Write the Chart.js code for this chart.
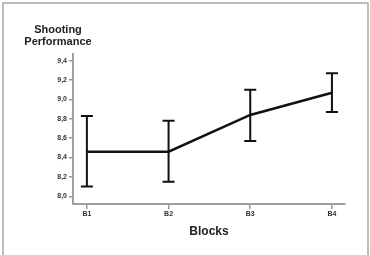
<!DOCTYPE html>
<html>
<head>
<meta charset="utf-8">
<script src="https://cdn.jsdelivr.net/npm/chart.js@4"></script>
<style>
  html, body { margin: 0; padding: 0; background: #fff; }
  #wrap { width: 370px; height: 255px; }
</style>
</head>
<body>
<div id="wrap"><canvas id="grafico" width="370" height="255"></canvas></div>
<script>
const bloques = ["B1", "B2", "B3", "B4"];
const medias = [8.46, 8.46, 8.84, 9.07];
const superior = [8.83, 8.78, 9.10, 9.27];
const inferior = [8.10, 8.15, 8.57, 8.87];
const ticksY = [8.0, 8.2, 8.4, 8.6, 8.8, 9.0, 9.2, 9.4];

const fuente = "'Liberation Sans', Arial, sans-serif";

// marco gris y titulo del eje y
const marco = {
    id: "marco",
    beforeDraw(chart) {
        const ctx = chart.ctx;
        ctx.save();
        ctx.strokeStyle = "#a8a8a8";
        ctx.lineWidth = 1.5;
        ctx.beginPath();
        ctx.moveTo(3, 260);
        ctx.lineTo(3, 3);
        ctx.lineTo(368, 3);
        ctx.lineTo(368, 260);
        ctx.stroke();
        ctx.fillStyle = "#222";
        ctx.font = "bold 11px " + fuente;
        ctx.textAlign = "center";
        ctx.textBaseline = "middle";
        ctx.fillText("Shooting", 58, 30);
        ctx.fillText("Performance", 58, 42);
        ctx.restore();
    }
};

// barras de error
const barrasError = {
    id: "barrasError",
    afterDatasetsDraw(chart) {
        const ctx = chart.ctx;
        const x = chart.scales.x;
        const y = chart.scales.y;
        ctx.save();
        ctx.strokeStyle = "#111";
        ctx.lineWidth = 2;
        bloques.forEach((b, i) => {
            const px = x.getPixelForValue(i + 1);
            const top = y.getPixelForValue(superior[i]);
            const bot = y.getPixelForValue(inferior[i]);
            ctx.beginPath();
            ctx.moveTo(px, top);
            ctx.lineTo(px, bot);
            ctx.moveTo(px - 6, top);
            ctx.lineTo(px + 6, top);
            ctx.moveTo(px - 6, bot);
            ctx.lineTo(px + 6, bot);
            ctx.stroke();
        });
        ctx.restore();
    }
};

new Chart(document.getElementById("grafico"), {
    type: "line",
    data: {
        datasets: [{
            data: medias.map((v, i) => ({ x: i + 1, y: v })),
            borderColor: "#111",
            borderWidth: 2.5,
            pointRadius: 0,
            tension: 0,
            fill: false
        }]
    },
    options: {
        responsive: false,
        animation: false,
        layout: { padding: { left: 0, right: 25, top: 54, bottom: 0 } },
        plugins: { legend: { display: false }, tooltip: { enabled: false } },
        scales: {
            x: {
                type: "linear",
                min: 0.83,
                max: 4.16,
                afterBuildTicks: (s) => { s.ticks = bloques.map((b, i) => ({ value: i + 1 })); },
                afterFit: (s) => { s.height = 51; },
                grid: { drawOnChartArea: false, drawTicks: true, tickLength: 5, color: "#999", lineWidth: 1.5 },
                border: { display: true, color: "#a0a0a0", width: 2 },
                ticks: {
                    padding: 1,
                    color: "#333",
                    font: { family: fuente, size: 7, weight: "bold" },
                    callback: (v) => bloques[v - 1]
                },
                title: {
                    display: true,
                    text: "Blocks",
                    color: "#222",
                    font: { family: fuente, size: 12, weight: "bold" },
                    padding: { top: 0, bottom: 16 }
                }
            },
            y: {
                min: 7.92,
                max: 9.47,
                afterBuildTicks: (s) => { s.ticks = ticksY.map(v => ({ value: v })); },
                afterFit: (s) => { s.width = 73; },
                grid: { drawOnChartArea: false, drawTicks: true, tickLength: 4, color: "#999", lineWidth: 1.5 },
                border: { display: true, color: "#a0a0a0", width: 2 },
                ticks: {
                    padding: 2,
                    color: "#333",
                    font: { family: fuente, size: 7, weight: "bold" },
                    callback: (v) => v.toFixed(1).replace(".", ",")
                }
            }
        }
    },
    plugins: [marco, barrasError]
});
</script>
</body>
</html>
